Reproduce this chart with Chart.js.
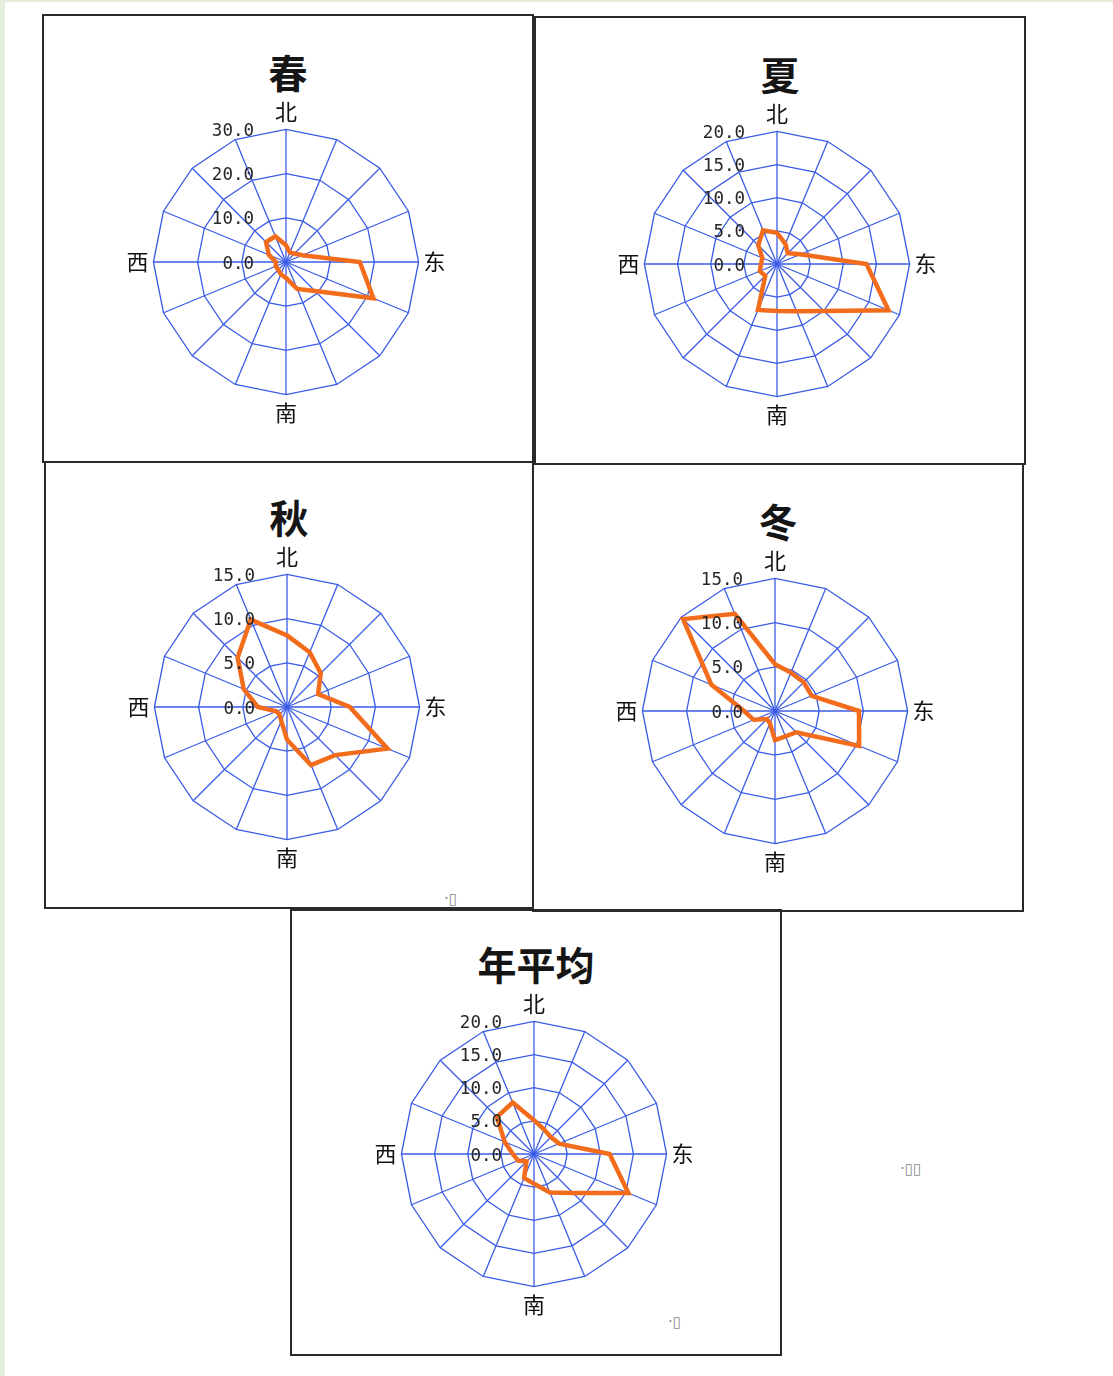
<!DOCTYPE html>
<html>
<head>
<meta charset="utf-8">
<title>风向玫瑰图</title>
<script src="https://cdn.jsdelivr.net/npm/chart.js@4"></script>
<style>
    html, body { margin: 0; padding: 0; }
    body { width: 1113px; height: 1376px; background: #e3efdb; position: relative; overflow: hidden; }
    #page { position: absolute; left: 5px; top: 2px; width: 1108px; height: 1374px; background: #fff; }
    .box { position: absolute; box-sizing: border-box; border: 2px solid #2a2a2a; }
    .ttl { position: absolute; width: 200px; text-align: center; font-family: "Noto Sans CJK SC"; font-weight: bold; font-size: 39px; line-height: 40px; color: #151515; }
    canvas { position: absolute; }
    .mark { position: absolute; font-family: "DejaVu Sans"; font-size: 15px; color: #888; line-height: 15px; }
</style>
</head>
<body>
<div id="page"></div>
<span class="mark" style="left:444px;top:892px">·▯</span>
<span class="mark" style="left:900px;top:1162px">·▯▯</span>
<span class="mark" style="left:668px;top:1315px">·▯</span>

<script>
// 16 wind directions, clockwise from north
var directions = ['北', '北东北', '东北', '东东北', '东', '东东南', '东南', '南东南',
    '南', '南西南', '西南', '西西南', '西', '西西北', '西北', '北西北'];

var spring = [3.8, 2.3, 2.7, 4.0, 16.7, 21.4, 9.3, 6.6, 3.6, 3.0, 2.5, 2.5, 2.3, 4.2, 6.4, 6.3];
var summer = [4.7, 3.3, 2.3, 3.8, 13.5, 18.2, 10.0, 7.7, 7.1, 7.5, 2.5, 2.8, 2.4, 2.4, 4.0, 5.5];
var autumn = [8.1, 6.7, 5.4, 3.8, 7.1, 12.3, 7.7, 7.1, 3.7, 1.7, 1.2, 1.3, 3.3, 5.3, 7.9, 10.7];
var winter = [5.3, 4.7, 4.6, 4.5, 9.5, 10.3, 3.4, 3.1, 3.3, 1.5, 1.3, 2.6, 3.5, 7.8, 14.7, 11.9];
var annual = [5.1, 4.0, 3.6, 4.1, 11.4, 15.4, 8.3, 6.3, 4.5, 3.9, 1.6, 2.6, 3.2, 4.8, 7.9, 8.4];

var seasonNames = ['春', '夏', '秋', '冬', '年平均'];
var seasonData = [spring, summer, autumn, winter, annual];
var axisMax = [30, 20, 15, 15, 20];
var axisStep = [10, 5, 5, 5, 5];

// frame rectangles (left, top, right, bottom) and rose centre
var panels = [
    { box: [43, 15, 533, 462], cx: 286, cy: 262 },
    { box: [535, 17, 1025, 464], cx: 777, cy: 264 },
    { box: [45, 462, 533, 908], cx: 287, cy: 707 },
    { box: [533, 464, 1023, 911], cx: 775, cy: 711 },
    { box: [291, 910, 781, 1355], cx: 534, cy: 1154 }
];

var SIZE = 328;
var GRID = '#3a5ce6';

// value labels sit left of the north spoke, one per ring
var tickLabels = {
    id: 'tickLabels',
    afterDatasetsDraw: function (chart) {
        var r = chart.scales.r;
        var ctx = chart.ctx;
        ctx.save();
        ctx.font = '17.5px "DejaVu Sans Mono"';
        ctx.fillStyle = '#262626';
        ctx.textAlign = 'right';
        ctx.textBaseline = 'middle';
        r.ticks.forEach(function (t) {
            var y = r.yCenter - r.getDistanceFromCenterForValue(t.value);
            ctx.fillText(t.value.toFixed(1), r.xCenter - 32, y + 2);
        });
        ctx.restore();
    }
};

function rose(i) {
    var p = panels[i];
    var b = p.box;

    var box = document.createElement('div');
    box.className = 'box';
    box.style.left = (b[0] - 1) + 'px';
    box.style.top = (b[1] - 1) + 'px';
    box.style.width = (b[2] - b[0] + 2) + 'px';
    box.style.height = (b[3] - b[1] + 2) + 'px';
    document.body.appendChild(box);

    var t = document.createElement('div');
    t.className = 'ttl';
    t.textContent = seasonNames[i];
    t.style.left = ((b[0] + b[2]) / 2 - 100) + 'px';
    t.style.top = (p.cy - 211) + 'px';
    document.body.appendChild(t);

    var cv = document.createElement('canvas');
    cv.width = SIZE;
    cv.height = SIZE;
    cv.style.left = (p.cx - SIZE / 2) + 'px';
    cv.style.top = (p.cy - SIZE / 2) + 'px';
    document.body.appendChild(cv);

    new Chart(cv, {
        type: 'radar',
        data: {
            labels: directions,
            datasets: [{
                data: seasonData[i],
                borderColor: '#f26c1c',
                borderWidth: 4.5,
                backgroundColor: 'transparent',
                fill: false,
                pointRadius: 0,
                pointHoverRadius: 0
            }]
        },
        options: {
            responsive: false,
            animation: false,
            events: [],
            layout: { padding: 0 },
            plugins: {
                legend: { display: false },
                tooltip: { enabled: false }
            },
            scales: {
                r: {
                    min: 0,
                    max: axisMax[i],
                    ticks: { display: false, stepSize: axisStep[i] },
                    grid: { color: GRID, lineWidth: 1.3 },
                    angleLines: { color: GRID, lineWidth: 1.3 },
                    pointLabels: {
                        padding: 5,
                        color: '#111',
                        font: { family: '"Noto Sans CJK SC"', size: 22, lineHeight: 1.2 },
                        callback: function (label, idx) {
                            return idx % 4 === 0 ? label : '';
                        }
                    }
                }
            }
        },
        plugins: [tickLabels]
    });
}

for (var i = 0; i < seasonNames.length; i++) {
    rose(i);
}
</script>
</body>
</html>
